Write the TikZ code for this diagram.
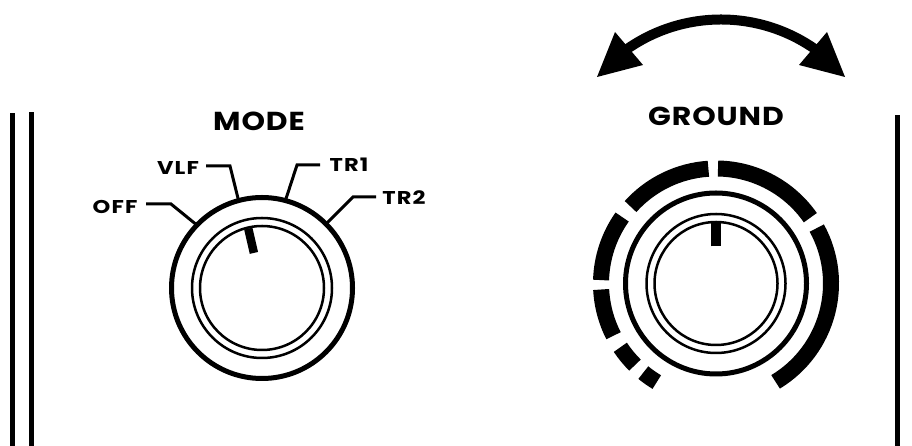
\documentclass[tikz,border=0pt]{standalone}
\usepackage{graphicx}
\usepackage{fontspec}
\setmainfont{Poppins}
\newfontfamily\ttlfont[LetterSpace=3]{Poppins}
\newfontfamily\lblfont[LetterSpace=5]{Poppins}
\newcommand{\wideT}[1]{\scalebox{1.15}[1]{#1}}
\newcommand{\wideL}[1]{\scalebox{1.22}[1]{#1}}
\begin{document}
\begin{tikzpicture}[x=1pt,y=1pt,
  panel/.style={line width=5pt},
  ring/.style={line width=5pt},
  thinring/.style={line width=2.5pt},
  leader/.style={line width=3pt},
  seg/.style={line width=16pt},
  lbl/.style={font=\lblfont\fontsize{18.5}{18.5}\selectfont\bfseries, inner sep=0pt},
  ttl/.style={font=\ttlfont\fontsize{26}{26}\selectfont\bfseries, inner sep=0pt}]
\useasboundingbox (0,0) rectangle (912,446);
% panel lines
\draw[panel] (12,0) -- (12,333);
\draw[panel] (31,0) -- (31,334);
\draw[panel] (897,0) -- (897,331);
% ---------- MODE knob
\coordinate (M) at (262,158);
\draw[ring] (M) circle (90.5);
\draw[thinring] (M) circle (70);
\draw[thinring] (M) circle (62);
\draw[line width=8.5pt] ([shift={(103:36)}]M) -- ([shift={(103:61)}]M);
\node[ttl] (mode) at (259,325) {\wideT{MODE}};
\node[lbl] (off) at (115,239.5) {\wideL{OFF}};
\node[lbl] (vlf) at (178,277.5) {\wideL{VLF}};
\node[lbl] (tr1) at (349,281) {\wideL{TR1}};
\node[lbl] (tr2) at (404,248) {\wideL{TR2}};
\draw[leader] (146,242) -- (171,242) -- ([shift={(136:91)}]M);
\draw[leader] (206,280) -- (230,280) -- ([shift={(105:91)}]M);
\draw[leader] (320,281) -- (297,281) -- ([shift={(75:91)}]M);
\draw[leader] (376,249) -- (353,249) -- ([shift={(45:91)}]M);
% ---------- GROUND knob
\coordinate (G) at (716,162.5);
\draw[ring] (G) circle (90.5);
\draw[thinring] (G) circle (69.5);
\draw[thinring] (G) circle (61.5);
\draw[line width=10pt] ([shift={(90:37)}]G) -- ([shift={(90:61)}]G);
\node[ttl] (ground) at (716,329.5) {\wideT{GROUND}};
\draw[seg] ([shift={(-58.8:115)}]G) arc (-58.8:28.8:115);
\draw[seg] ([shift={(34.9:115)}]G) arc (34.9:89:115);
\draw[seg] ([shift={(93.8:115)}]G) arc (93.8:138:115);
\draw[seg] ([shift={(144.7:115)}]G) arc (144.7:178.3:115);
\draw[seg] ([shift={(183:115)}]G) arc (183:207:115);
\draw[seg] ([shift={(213.7:115)}]G) arc (213.7:225.2:115);
\draw[seg] ([shift={(230.8:115)}]G) arc (230.8:239:115);
% ---------- double arrow
\coordinate (A) at (721,262.5);
\draw[line width=10pt] ([shift={(127:164)}]A) arc (127:53:164);
\fill (597,369) -- (615,414) -- (643,381) -- cycle;
\fill (845,369) -- (827,414) -- (799,381) -- cycle;
\end{tikzpicture}
\end{document}
